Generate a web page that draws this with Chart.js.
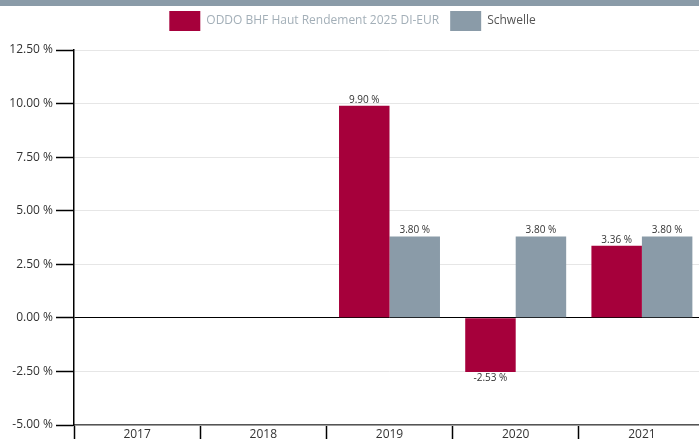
<!DOCTYPE html>
<html>
<head>
<meta charset="utf-8">
<script src="https://cdn.jsdelivr.net/npm/chart.js@4"></script>
<style>
  html, body { margin: 0; padding: 0; background: #fff; overflow: hidden; }
  #topbar { height: 6px; background: #8a9ba8; width: 699px; }
  #wrap { width: 730px; height: 436px; position: relative; }
</style>
</head>
<body>
<div id="topbar"></div>
<div id="wrap"><canvas id="myChart"></canvas></div>
<script>
// data
const years = ['2017', '2018', '2019', '2020', '2021'];
const fundValues = [null, null, 9.90, -2.53, 3.36];
const thresholdValues = [null, null, 3.80, 3.80, 3.80];
const yTicks = [-5, -2.5, 0, 2.5, 5, 7.5, 10, 12.5];

const red = '#a6003b';
const grey = '#8a9ba8';
const fmt = v => v.toFixed(2) + ' %';

// small plugin to write the value over/under each bar
const barLabels = {
  id: 'barLabels',
  afterDatasetsDraw(chart) {
    const ctx = chart.ctx;
    ctx.save();
    ctx.font = '10px "Open Sans"';
    ctx.fillStyle = '#333';
    ctx.textAlign = 'center';
    chart.data.datasets.forEach((ds, i) => {
      const meta = chart.getDatasetMeta(i);
      meta.data.forEach((bar, j) => {
        const v = ds.data[j];
        if (v === null) return;
        if (v >= 0) {
          ctx.textBaseline = 'bottom';
          ctx.fillText(fmt(v), bar.x, bar.y - 1);
        } else {
          ctx.textBaseline = 'top';
          ctx.fillText(fmt(v), bar.x, bar.y + 1);
        }
      });
    });
    ctx.restore();
  }
};

// push the plot down a bit under the legend
const legendGap = {
  id: 'legendGap',
  beforeInit(chart) {
    const fit = chart.legend.fit;
    chart.legend.fit = function () {
      fit.bind(chart.legend)();
      this.height += 9;
    };
  }
};

const ctx = document.getElementById('myChart');
const myChart = new Chart(ctx, {
  type: 'bar',
  data: {
    labels: years,
    datasets: [{
      label: 'ODDO BHF Haut Rendement 2025 DI-EUR',
      data: fundValues,
      backgroundColor: red,
      borderColor: red,
      categoryPercentage: 0.8,
      barPercentage: 1.0
    }, {
      label: 'Schwelle',
      data: thresholdValues,
      backgroundColor: grey,
      borderColor: grey,
      categoryPercentage: 0.8,
      barPercentage: 1.0
    }]
  },
  options: {
    responsive: true,
    maintainAspectRatio: false,
    animation: false,
    layout: { padding: { top: -6, right: 25, bottom: 0, left: 0 } },
    plugins: {
      tooltip: { enabled: false },
      legend: {
        position: 'top',
        labels: {
          boxWidth: 31,
          boxHeight: 20,
          useBorderRadius: true,
          borderRadius: 3,
          padding: 11,
          font: { family: '"Open Sans", sans-serif', size: 12 },
          generateLabels(chart) {
            return chart.data.datasets.map((ds, i) => ({
              text: ds.label,
              fillStyle: ds.backgroundColor,
              strokeStyle: ds.backgroundColor,
              lineWidth: 0,
              fontColor: i === 0 ? '#a3afb8' : '#555',
              datasetIndex: i,
              hidden: false
            }));
          }
        }
      }
    },
    scales: {
      x: {
        afterFit(scale) { scale.height = 17; },
        grid: {
          offset: true,
          drawOnChartArea: false,
          drawTicks: true,
          tickLength: 17,
          tickColor: '#000',
          tickWidth: 1.5
        },
        border: { color: '#555', width: 1.5 },
        ticks: {
          padding: -15,
          color: '#333',
          font: { family: '"Open Sans"', size: 12 }
        }
      },
      y: {
        min: -5,
        max: 12.5,
        afterBuildTicks(scale) {
          scale.ticks = yTicks.map(v => ({ value: v }));
        },
        afterFit(scale) { scale.width = 74; },
        grid: {
          color: ctx => ctx.tick && ctx.tick.value === 0 ? '#000' : '#e6e6e6',
          tickColor: '#000',
          tickLength: 18,
          tickWidth: 1.5
        },
        border: { color: '#000', width: 1.5 },
        ticks: {
          padding: 3,
          color: '#333',
          font: { family: '"Open Sans"', size: 12 },
          callback: v => fmt(v)
        }
      }
    }
  },
  plugins: [barLabels, legendGap]
});
</script>
</body>
</html>
